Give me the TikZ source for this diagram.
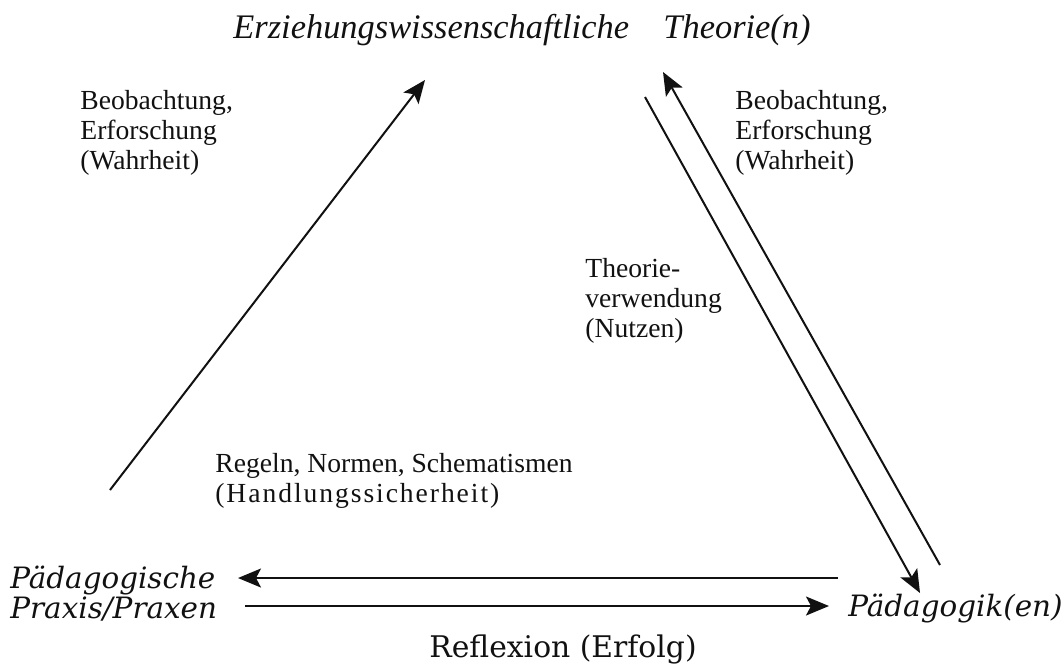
\documentclass[tikz,border=0pt]{standalone}
\usepackage{fontspec}
\setmainfont{Liberation Serif}
\newfontfamily\schoolfont{DejaVu Serif}
\usetikzlibrary{arrows.meta}
\definecolor{scanink}{HTML}{111111}

\begin{document}
\begin{tikzpicture}[
  x=0.5pt,
  y=-0.5pt,
  every node/.style={font=\fontsize{13.8}{15}\selectfont, text=scanink, inner sep=0pt},
  note/.style={align=left, anchor=north west},
  pole/.style={font=\schoolfont\fontsize{14.7}{15}\selectfont\itshape},
  flow/.style={scanink, line width=1pt, -{Stealth[length=11.5pt,width=9.5pt,inset=2.5pt]}}
]
  \useasboundingbox (0,0) rectangle (1064,666);

  % the three poles
  \node[font=\fontsize{17.2}{18}\selectfont\itshape, anchor=base] (theorie) at (522,38) {Erziehungswissenschaftliche\hspace{1em}Theorie(n)};
  \node[pole, align=left, anchor=north west] (praxis) at (10,566) {Pädagogische\\Praxis/Praxen};
  \node[pole, anchor=west] (paedagogik) at (848,608) {Pädagogik(en)};

  % labels on the sides
  \node[note] (beoLinks) at (80,90) {Beobachtung,\\Erforschung\\(Wahrheit)};
  \node[note] (beoRechts) at (735,90) {Beobachtung,\\Erforschung\\(Wahrheit)};
  \node[note] (verwendung) at (585,258) {Theorie-\\verwendung\\(Nutzen)};
  \node[note] (regeln) at (215,453) {Regeln, Normen, Schematismen\\{\addfontfeature{LetterSpace=7}(Handlungssicherheit)}};
  \node[font=\schoolfont\fontsize{14.9}{15}\selectfont, anchor=base] (reflexion) at (563,657) {Reflexion (Erfolg)};

  \coordinate (praxisOben) at (110,490);
  \coordinate (theorieLinks) at (425,80);
  \coordinate (paedOben) at (940,565);
  \coordinate (theorieRechts) at (663,72);
  \coordinate (theorieAb) at (645,97);
  \coordinate (paedSpitze) at (920,593);
  \coordinate (paedLinks) at (838,578);
  \coordinate (praxisRechts) at (238,578);
  \coordinate (praxisUnten) at (245,606);
  \coordinate (paedUnten) at (829,606);

  \draw[flow] (praxisOben) -- (theorieLinks);
  \draw[flow] (paedOben) -- (theorieRechts);
  \draw[flow] (theorieAb) -- (paedSpitze);
  \draw[flow] (paedLinks) -- (praxisRechts);
  \draw[flow] (praxisUnten) -- (paedUnten);
\end{tikzpicture}
\end{document}
